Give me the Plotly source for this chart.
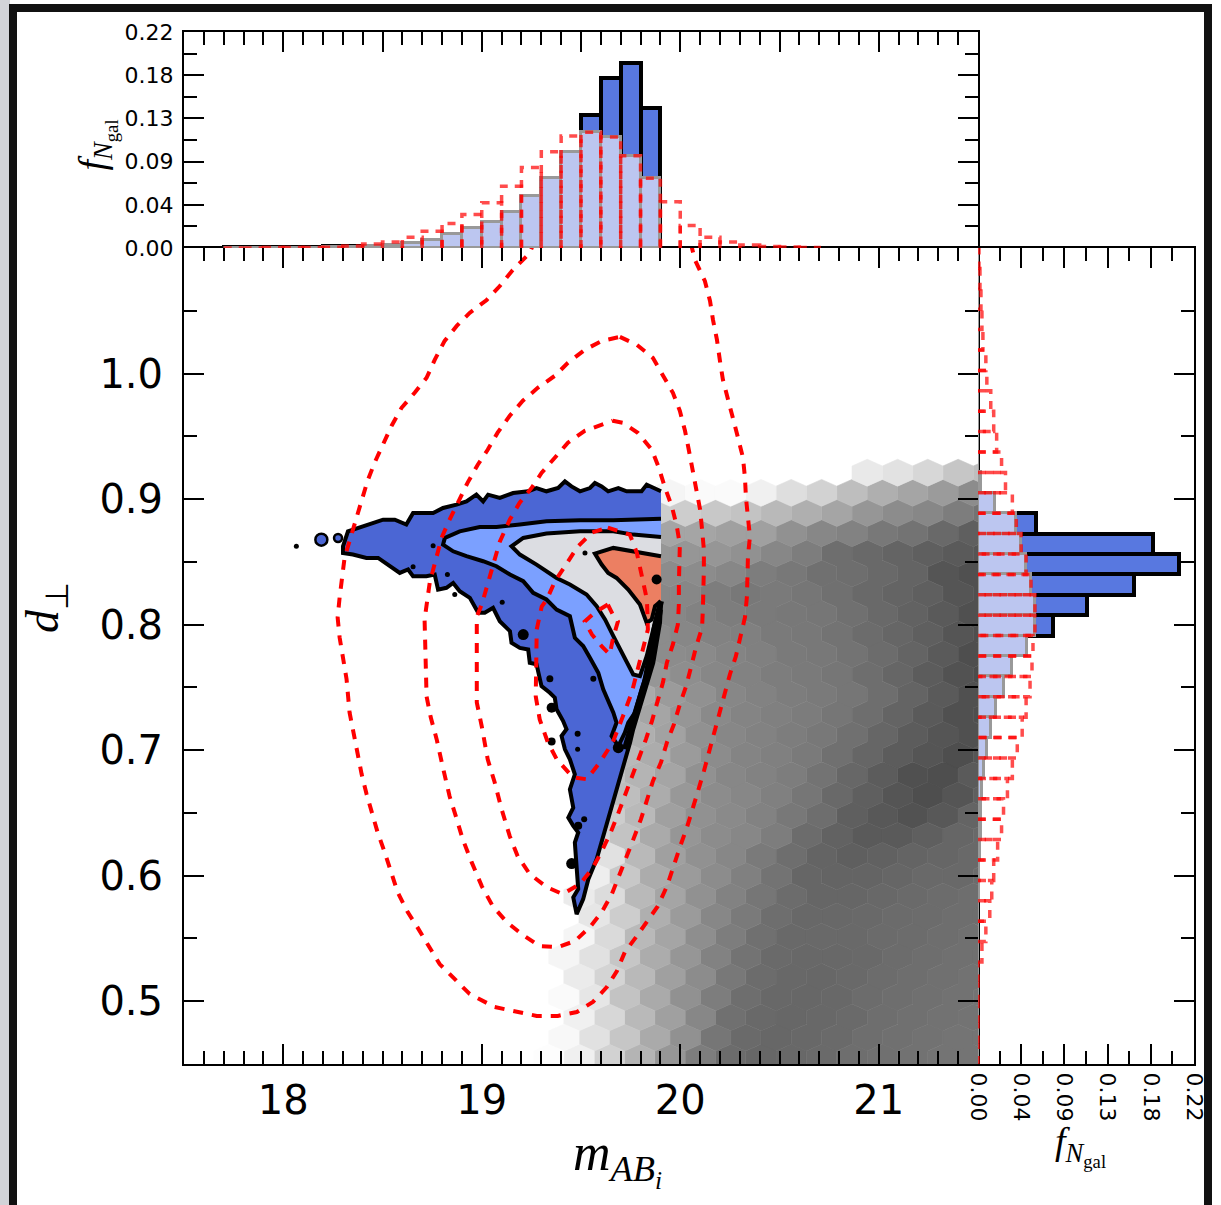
import plotly.graph_objects as go

# ---------- histogram of magnitude (top panel) ----------
mag_bin_left = [17.7,17.8,17.9,18.0,18.1,18.2,18.3,18.4,18.5,18.6,18.7,18.8,18.9,19.0,19.1,19.2,19.3,19.4,19.5,19.6,19.7,19.8,
                19.9,20.0,20.1,20.2,20.3,20.4,20.5,20.6]
mag_blue  = [.0006,.0006,.0006,.0006,.0006,.002,.002,.002,.002,.002,.002,.003,.004,.006,.009,.014,.024,.05,.135,.173,.188,.143]
mag_light = [.0002,.0002,.0002,.0002,.0003,.0006,.0012,.002,.0035,.0055,.0085,.0143,.020,.026,.037,.053,.071,.098,.118,.113,.094,.071]
mag_red   = [0,0,.0004,.0004,.0004,.0008,.002,.004,.006,.011,.017,.025,.034,.046,.063,.082,.098,.114,.118,.113,.094,.071,
             .047,.023,.011,.006,.003,.0015,.001,.0005]

# ---------- histogram of d_perp (right panel), 40 bins ----------
d_bin_left = [.45,.46625,.4825,.49875,.515,.53125,.5475,.56375,.58,.59625,.6125,.62875,.645,.66125,.6775,.69375,.71,.72625,.7425,.75875,
              .775,.79125,.8075,.82375,.84,.85625,.8725,.88875,.905,.92125,.9375,.95375,.97,.98625,1.0025,1.01875,1.035,1.05125,1.0675,1.08375]
d_blue  = [0]*21 + [.076,.111,.159,.205,.178,.059] + [0]*13
d_light = [0,0,0,0,0,0,0,.0005,.001,.0015,.002,.003,.0035,.0045,.006,.009,.013,.018,.026,.035,.05,.058,.058,.054,.049,.044,.039,.017,.003,
           0,0,0,0,0,0,0,0,0,0,0]
d_red   = [0,0,0,0,0,.004,.008,.012,.014,.016,.020,.024,.026,.030,.035,.040,.045,.049,.053,.055,.056,.058,.058,.054,.049,.044,.039,.035,.028,
           .024,.019,.016,.013,.009,.008,.005,.004,.003,.002,.001]

# ---------- hexbin shades (grey level per cell; 0 = empty), rows top to bottom ----------
hex_rows = [
 [0,0,0,0,0,0,0,0,0,0,0,0,0,233,226,215,198,190],
 [0,0,0,0,0,0,245,250,250,240,222,210,190,175,165,155,140,0],
 [0,0,0,0,0,0,205,205,200,195,185,175,165,150,140,135,125,115],
 [0,0,0,0,0,0,165,165,160,160,145,135,130,120,115,105,95,0],
 [0,0,0,0,0,0,150,150,150,145,135,125,110,105,100,95,90,85],
 [0,0,0,0,0,0,140,140,135,125,120,112,110,105,100,85,80,0],
 [0,0,0,0,0,0,135,135,125,120,122,118,112,105,100,95,85,80],
 [0,0,0,0,0,0,135,130,125,122,120,118,112,105,98,90,80,0],
 [0,0,0,0,0,0,140,135,130,128,122,120,115,108,102,95,85,78],
 [0,0,0,0,0,165,140,138,132,128,122,120,115,108,100,90,78,0],
 [0,0,0,0,0,170,150,142,135,130,125,122,118,110,102,92,82,75],
 [0,0,0,0,0,170,155,145,135,130,125,122,118,110,100,90,80,0],
 [0,0,0,0,0,175,165,150,138,132,128,124,118,110,100,90,80,78],
 [0,0,0,0,0,175,162,145,135,130,125,120,112,102,92,85,80,0],
 [0,0,0,0,0,185,172,155,140,132,128,122,112,102,92,85,78,85],
 [0,0,0,0,195,180,165,145,135,130,125,115,103,92,80,78,90,0],
 [0,0,0,0,0,190,172,152,140,135,128,118,105,95,85,78,85,95],
 [0,0,0,0,205,185,160,145,138,130,120,110,95,88,82,88,100,0],
 [0,0,0,0,215,195,170,150,140,135,125,108,98,90,90,95,102,105],
 [0,0,0,0,225,185,160,145,135,122,110,100,95,97,100,102,105,0],
 [0,0,0,0,238,200,172,155,140,128,115,102,100,100,102,105,105,108],
 [0,0,0,235,220,185,165,145,130,118,108,102,102,104,106,108,110,0],
 [0,0,0,0,230,205,175,155,135,122,110,104,104,105,107,108,110,110],
 [0,0,0,245,218,185,165,142,125,112,105,105,105,107,108,110,112,0],
 [0,0,0,245,225,198,172,150,130,115,106,104,104,105,108,110,112,112],
 [0,0,0,235,212,185,160,140,120,108,104,103,105,108,110,112,114,0],
 [0,0,0,250,230,195,170,145,125,110,104,103,104,108,110,112,114,115],
 [0,0,0,240,215,185,160,135,112,105,103,104,106,110,112,114,115,0],
 [0,0,0,248,225,198,170,145,118,106,103,104,106,110,112,114,116,116],
 [0,0,253,240,210,180,150,125,108,103,104,106,110,112,114,116,116,0],
]
hex_col_even = [18.955,19.108,19.261,19.414,19.566,19.719,19.872,20.025,20.178,20.330,20.483,20.636,20.789,20.942,21.095,21.247,21.400,21.553]
hex_col_odd  = [19.031,19.184,19.337,19.490,19.643,19.795,19.948,20.101,20.254,20.407,20.559,20.712,20.865,21.018,21.171,21.324,21.476,21.629]
hex_row_d = [.9210-.01607*i for i in range(30)]
hex_half_w, hex_half_h = .0764, .01071

# ---------- filled contours ----------
c_blue_x = [19.903,19.864,19.831,19.805,19.730,19.688,19.637,19.604,19.570,19.545,19.495,19.452,19.419,19.385,19.326,19.276,19.234,19.158,19.091,19.032,19.007,18.973,18.923,18.873,18.805,18.755,18.654,18.620,18.562,18.503,18.435,18.385,18.326,18.301,18.301,18.351,18.419,18.478,18.536,18.587,18.629,18.654,18.721,18.763,18.780,18.822,18.856,18.889,18.940,18.982,19.015,19.057,19.091,19.142,19.150,19.192,19.234,19.242,19.276,19.301,19.343,19.368,19.377,19.410,19.427,19.402,19.419,19.444,19.469,19.444,19.461,19.436,19.461,19.486,19.469,19.478,19.486,19.461,19.478,19.511,19.537,19.579,19.637,19.713,19.747,19.763,19.831,19.864,19.898,19.903]
c_blue_y = [.9062,.9088,.9115,.9062,.9062,.9088,.9062,.9101,.9128,.9088,.9062,.9101,.9141,.9088,.9062,.9088,.9062,.9048,.9009,.9035,.8982,.9035,.8982,.8956,.8929,.8889,.8889,.8797,.8836,.8836,.8797,.8770,.8743,.8624,.8571,.8558,.8531,.8531,.8465,.8412,.8439,.8386,.8386,.8399,.8279,.8293,.8332,.8266,.8213,.8094,.8094,.8134,.8027,.7948,.7855,.7815,.7802,.7696,.7683,.7510,.7457,.7418,.7325,.7232,.7166,.7113,.7007,.6927,.6808,.6688,.6542,.6463,.6397,.6344,.6264,.6079,.5893,.5827,.5694,.5813,.5972,.6132,.6450,.6847,.7060,.7166,.7510,.7696,.8014,.8173]
c_sky_x = [19.903,19.763,19.663,19.495,19.326,19.192,19.074,18.990,18.889,18.814,18.805,18.856,18.923,19.007,19.074,19.142,19.209,19.259,19.326,19.377,19.444,19.469,19.511,19.545,19.587,19.612,19.663,19.679,19.654,19.688,19.721,19.738,19.772,19.805,19.848,19.881,19.903]
c_sky_y = [.8844,.8836,.8831,.8831,.8823,.8797,.8778,.8778,.8743,.8690,.8637,.8584,.8545,.8505,.8465,.8399,.8346,.8253,.8200,.8120,.8067,.7895,.7829,.7736,.7617,.7484,.7298,.7219,.7113,.7033,.7139,.7219,.7298,.7484,.7696,.7908,.8120]
c_grey_x = [19.903,19.763,19.663,19.495,19.326,19.209,19.150,19.192,19.276,19.377,19.444,19.528,19.579,19.621,19.663,19.713,19.763,19.797,19.831,19.864,19.903]
c_grey_y = [.8698,.8717,.8743,.8743,.8725,.8690,.8624,.8558,.8478,.8372,.8319,.8240,.8147,.8041,.7908,.7749,.7603,.7590,.7749,.7961,.8173]
c_salm_x = [19.903,19.763,19.663,19.570,19.604,19.637,19.679,19.738,19.797,19.831,19.856,19.873,19.903]
c_salm_y = [.8545,.8584,.8611,.8566,.8478,.8412,.8372,.8279,.8160,.8014,.8041,.8147,.8187]
c_edge_x = [19.903,19.873,19.848,19.822,19.780,19.747,19.721]
c_edge_y = [.8187,.7988,.7749,.7537,.7325,.7139,.7007]
island_x = [18.066,18.755,18.654,18.827,18.864,19.103,19.209,19.520,19.881,19.343,19.562,19.352,19.483,19.352,19.483,19.688,19.516,19.486,19.453]
island_y = [.8624,.8629,.8460,.8399,.8240,.8179,.7921,.8571,.8359,.7569,.7569,.7338,.7131,.7068,.7007,.7020,.6450,.6397,.6097]
lobe_x = [18.276,18.192]
lobe_y = [.8690,.8677]

# ---------- dashed red contours ----------
r1_x = [19.267,19.242,19.156,19.091,19.025,18.939,18.874,18.813,18.763,18.722,18.662,18.596,18.546,18.501,18.460,18.425,18.395,18.359,18.334,18.309,18.284,18.274,18.284,18.299,18.319,18.334,18.359,18.375,18.395,18.420,18.445,18.475,18.511,18.541,18.576,18.627,18.672,18.788,18.939,19.065,19.191,19.277,19.383,19.479,19.560,19.630,19.681,19.721,19.781,19.837,19.887,19.933,19.963,19.998,20.034,20.064,20.089,20.119,20.144,20.174,20.200,20.225,20.250,20.280,20.306,20.326,20.336,20.336,20.341,20.351,20.341,20.331,20.326,20.316,20.291,20.266,20.240,20.215,20.200,20.185,20.165,20.150,20.124,20.074,20.049]
r1_y = [1.1064,1.096,1.0825,1.0697,1.0586,1.0483,1.0379,1.026,1.0109,.9966,.9847,.9727,.9584,.9433,.9289,.9147,.8987,.8797,.8677,.8534,.8216,.8057,.7897,.7739,.7565,.7301,.7110,.6951,.6808,.6649,.6505,.6347,.6187,.6028,.5869,.5710,.5599,.5296,.5058,.4954,.4914,.4883,.4883,.4914,.4994,.5113,.5241,.5392,.5519,.5638,.5757,.5916,.6068,.6227,.6386,.6529,.6672,.6832,.6983,.7142,.7301,.7444,.7603,.7746,.7906,.8057,.8224,.8383,.8542,.8701,.8852,.9011,.9170,.9329,.9489,.9648,.9791,.9950,1.0101,1.0268,1.0427,1.0578,1.0737,1.0905,1.1064]
r2_x = [19.696,19.782,19.862,19.913,19.963,19.998,20.024,20.044,20.064,20.084,20.100,20.110,20.119,20.119,20.114,20.114,20.110,20.079,20.054,20.029,19.998,19.968,19.933,19.903,19.862,19.832,19.802,19.766,19.731,19.691,19.655,19.605,19.545,19.469,19.383,19.292,19.201,19.126,19.055,19.000,18.949,18.904,18.874,18.838,18.803,18.773,18.743,18.722,18.717,18.712,18.738,18.773,18.798,18.838,18.879,18.929,18.980,19.030,19.080,19.141,19.207,19.282,19.368,19.434,19.519,19.605,19.696]
r2_y = [1.0292,1.0228,1.0125,.9982,.9847,.9703,.9544,.9385,.9226,.9067,.8916,.8757,.8598,.8438,.8279,.8120,.7977,.7818,.7659,.7508,.7365,.7205,.7062,.6903,.6752,.6593,.6450,.6299,.6147,.5996,.5853,.5710,.5591,.5479,.5431,.5439,.5535,.5630,.5758,.5917,.6108,.6291,.6450,.6633,.6871,.7086,.7261,.7428,.7739,.8041,.8335,.8534,.8693,.8836,.8971,.9131,.9274,.9393,.9529,.9664,.9783,.9886,.9982,1.0085,1.0189,1.0260,1.0292]
r3_x = [19.660,19.711,19.786,19.857,19.892,19.923,19.958,19.983,19.998,19.993,19.993,19.993,19.988,19.963,19.933,19.913,19.887,19.857,19.827,19.792,19.756,19.721,19.686,19.650,19.605,19.555,19.494,19.408,19.328,19.242,19.181,19.141,19.100,19.065,19.030,19.000,18.975,18.975,18.975,19.000,19.040,19.091,19.141,19.191,19.252,19.302,19.368,19.434,19.519,19.610,19.660]
r3_y = [.9624,.9608,.9528,.9393,.9250,.9091,.8940,.8781,.8637,.8478,.8319,.8160,.8001,.7842,.7699,.7540,.7381,.7229,.7086,.6935,.6784,.6633,.6490,.6347,.6195,.6052,.5933,.5853,.5909,.6012,.6155,.6315,.6530,.6744,.6927,.7190,.7380,.7746,.8064,.8160,.8383,.8661,.8836,.8971,.9091,.9210,.9329,.9449,.9544,.9600,.9624]
r4_x = [19.635,19.746,19.781,19.807,19.832,19.837,19.797,19.756,19.711,19.660,19.595,19.529,19.459,19.378,19.333,19.292,19.272,19.277,19.277,19.302,19.328,19.368,19.428,19.484,19.555,19.635]
r4_y = [.8773,.8717,.8574,.8383,.8200,.7961,.7699,.7460,.7269,.7062,.6903,.6768,.6784,.6927,.7062,.7245,.7428,.7699,.7961,.8144,.8200,.8343,.8494,.8622,.8733,.8773]
r5_x = [19.635,19.570,19.519,19.555,19.605,19.645,19.660,19.686,19.660,19.635]
r5_y = [.8160,.8097,.8025,.7922,.7826,.7762,.7882,.8025,.8081,.8160]

# ---------- tick labels ----------
f_ticks = [0,.044,.088,.132,.176,.22]
f_labels = ["0.00","0.04","0.09","0.13","0.18","0.22"]
f_minor = [.022,.066,.11,.154,.198]
d_ticks = [.5,.6,.7,.8,.9,1.0]
d_labels = ["0.5","0.6","0.7","0.8","0.9","1.0"]
d_minor = [.55,.65,.75,.85,.95,1.05]
mag_ticks = [18,19,20,21]
mag_labels = ["18","19","20","21"]

W, H = 1221, 1205
def fx(p): return p / W
def fy(p): return 1 - p / H
BLK = "#000000"

fig = go.Figure()

# hexes grouped by grey level
groups = {}
for r, row in enumerate(hex_rows):
    cols = hex_col_even if r % 2 == 0 else hex_col_odd
    for c, g in enumerate(row):
        if g:
            groups.setdefault(g, []).append((cols[c], hex_row_d[r]))
for g, cells in sorted(groups.items()):
    xs, ys = [], []
    for cx, cy in cells:
        xs += [cx, cx + hex_half_w, cx + hex_half_w, cx, cx - hex_half_w, cx - hex_half_w, cx, None]
        ys += [cy + hex_half_h, cy + hex_half_h / 2, cy - hex_half_h / 2, cy - hex_half_h, cy - hex_half_h / 2, cy + hex_half_h / 2, cy + hex_half_h, None]
    col = f"rgb({g},{g},{g})"
    fig.add_trace(go.Scatter(x=xs, y=ys, mode="lines", fill="toself", fillcolor=col, line=dict(color=col, width=0.6),
                             hoverinfo="skip", showlegend=False, xaxis="x", yaxis="y"))

# filled contours
for cx, cy, col in [(c_blue_x, c_blue_y, "#4b66d4"), (c_sky_x, c_sky_y, "#7ba0ff"),
                    (c_grey_x, c_grey_y, "#dcdde2"), (c_salm_x, c_salm_y, "#ec7f62")]:
    fig.add_trace(go.Scatter(x=cx, y=cy, mode="lines", fill="toself", fillcolor=col, line=dict(color=BLK, width=4),
                             hoverinfo="skip", showlegend=False, xaxis="x", yaxis="y"))
fig.add_trace(go.Scatter(x=c_edge_x, y=c_edge_y, mode="lines", line=dict(color=BLK, width=6),
                         hoverinfo="skip", showlegend=False, xaxis="x", yaxis="y"))
fig.add_trace(go.Scatter(x=island_x, y=island_y, mode="markers",
                         marker=dict(color=BLK, opacity=1, size=[5,5,5,5,5,5,11,5,10,7,6,10,6,8,5,11,6,8,11], line=dict(width=0)),
                         hoverinfo="skip", showlegend=False, xaxis="x", yaxis="y"))
fig.add_trace(go.Scatter(x=lobe_x, y=lobe_y, mode="markers",
                         marker=dict(color="#4b66d4", opacity=1, size=[8, 12], line=dict(color=BLK, width=2.5)),
                         hoverinfo="skip", showlegend=False, xaxis="x", yaxis="y"))

# red dashed contours
for cx, cy in [(r1_x, r1_y), (r2_x, r2_y), (r3_x, r3_y), (r4_x, r4_y), (r5_x, r5_y)]:
    fig.add_trace(go.Scatter(x=cx, y=cy, mode="lines", line=dict(color="#ff0000", width=4, dash="10px,9px"),
                             hoverinfo="skip", showlegend=False, xaxis="x", yaxis="y"))

# top histogram
mw = 0.1
mc = [m + mw / 2 for m in mag_bin_left]
fig.add_trace(go.Bar(x=mc[:22], y=mag_blue, width=mw, marker=dict(color="#5878e0", line=dict(color=BLK, width=4)),
                     hoverinfo="skip", showlegend=False, xaxis="x2", yaxis="y2"))
fig.add_trace(go.Bar(x=mc[:22], y=mag_light, width=mw, marker=dict(color="#bcc6f0", line=dict(color="#999999", width=3)),
                     hoverinfo="skip", showlegend=False, xaxis="x2", yaxis="y2"))
rx, ry = [], []
for m, v in zip(mag_bin_left, mag_red):
    rx += [m, m, m + mw, m + mw, None]
    ry += [0, v, v, 0, None]
fig.add_trace(go.Scatter(x=rx, y=ry, mode="lines", line=dict(color="rgba(255,0,0,0.7)", width=3.5, dash="8px,7px"),
                         hoverinfo="skip", showlegend=False, xaxis="x2", yaxis="y2"))

# right histogram
dw = 0.01625
dc = [d + dw / 2 for d in d_bin_left]
fig.add_trace(go.Bar(y=dc, x=d_blue, width=dw, orientation="h", marker=dict(color="#5878e0", line=dict(color=BLK, width=4)),
                     hoverinfo="skip", showlegend=False, xaxis="x3", yaxis="y3"))
fig.add_trace(go.Bar(y=dc, x=d_light, width=dw, orientation="h", marker=dict(color="#bcc6f0", line=dict(color="#999999", width=3)),
                     hoverinfo="skip", showlegend=False, xaxis="x3", yaxis="y3"))
rx, ry = [], []
for d, v in zip(d_bin_left, d_red):
    ry += [d, d, d + dw, d + dw, None]
    rx += [0, v, v, 0, None]
fig.add_trace(go.Scatter(x=rx, y=ry, mode="lines", line=dict(color="rgba(255,0,0,0.7)", width=3.5, dash="8px,7px"),
                         hoverinfo="skip", showlegend=False, xaxis="x3", yaxis="y3"))

small = dict(family="DejaVu Sans", size=22, color=BLK)
large = dict(family="DejaVu Sans", size=40, color=BLK)
common = dict(showgrid=False, zeroline=False, showline=True, linecolor=BLK, linewidth=2, ticks="inside",
              tickcolor=BLK, tickwidth=2, ticklen=20)
def mn(**k):
    return dict(ticks="inside", ticklen=13, tickwidth=2, tickcolor=BLK, showgrid=False, **k)

x_dom = [fx(184), fx(978)]
y_dom = [fy(1064), fy(248)]
fig.update_layout(
    width=W, height=H, margin=dict(l=0, r=0, t=0, b=0, pad=0, autoexpand=False), paper_bgcolor="white", plot_bgcolor="rgba(0,0,0,0)",
    showlegend=False, barmode="overlay", hovermode=False, bargap=0,
    xaxis=dict(domain=x_dom, anchor="y", range=[17.5, 21.5], mirror="ticks", tickvals=mag_ticks, ticktext=mag_labels,
               tickfont=large, minor=mn(dtick=.1, tick0=17.5), **common),
    yaxis=dict(domain=y_dom, anchor="x", range=[.45, 1.1], mirror="ticks", tickvals=d_ticks, ticktext=d_labels,
               tickfont=large, ticklabelstandoff=11, minor=mn(tickvals=d_minor), **common),
    xaxis2=dict(domain=x_dom, anchor="y2", side="top", range=[17.5, 21.5], mirror=False, tick0=18, dtick=.5, showticklabels=False,
                minor=mn(dtick=.1, tick0=17.5), **common),
    yaxis2=dict(domain=[fy(248), fy(32)], anchor="x2", range=[0, .22], mirror="ticks", tickvals=f_ticks, ticktext=f_labels,
                tickfont=small, ticklabelstandoff=4, minor=mn(tickvals=f_minor), **common),
    xaxis3=dict(domain=[fx(978), fx(1194)], anchor="y3", range=[0, .22], mirror="ticks", tickvals=f_ticks, ticktext=f_labels,
                tickfont=small, tickangle=90, ticklabelstandoff=2, minor=mn(tickvals=f_minor), **common),
    yaxis3=dict(domain=y_dom, anchor="x3", side="right", range=[.45, 1.1], mirror=False, tickvals=d_ticks, showticklabels=False,
                minor=mn(tickvals=d_minor), **common),
    shapes=[
        dict(type="rect", xref="paper", yref="paper", x0=0, x1=fx(10), y0=0, y1=1, fillcolor="#d2d3d8", line=dict(width=0), layer="below"),
        dict(type="rect", xref="paper", yref="paper", x0=fx(13), x1=fx(1208), y0=fy(1230), y1=fy(8),
             fillcolor="rgba(0,0,0,0)", line=dict(color="#111111", width=8), layer="above"),
    ],
    annotations=[
        dict(text="<i>d</i><sub>⊥</sub>", xref="paper", yref="paper", x=fx(15), y=fy(608), showarrow=False, textangle=-90,
             font=dict(family="Liberation Serif", size=46, color=BLK)),
        dict(text="<i>m</i><sub><i>AB</i><sub><i>i</i></sub></sub>", xref="paper", yref="paper", x=fx(617), y=fy(1197), showarrow=False,
             font=dict(family="Liberation Serif", size=52, color=BLK)),
        dict(text="<i>f</i><sub><i>N</i><sub>gal</sub></sub>", xref="paper", yref="paper", x=fx(68), y=fy(118), showarrow=False, textangle=-90,
             font=dict(family="Liberation Serif", size=38, color=BLK)),
        dict(text="<i>f</i><sub><i>N</i><sub>gal</sub></sub>", xref="paper", yref="paper", x=fx(1108), y=fy(1174), showarrow=False,
             font=dict(family="Liberation Serif", size=38, color=BLK)),
    ],
)

fig.write_html("out.html", config=dict(displayModeBar=False),
               post_script="document.body.style.margin='0';document.documentElement.style.overflow='hidden';")
